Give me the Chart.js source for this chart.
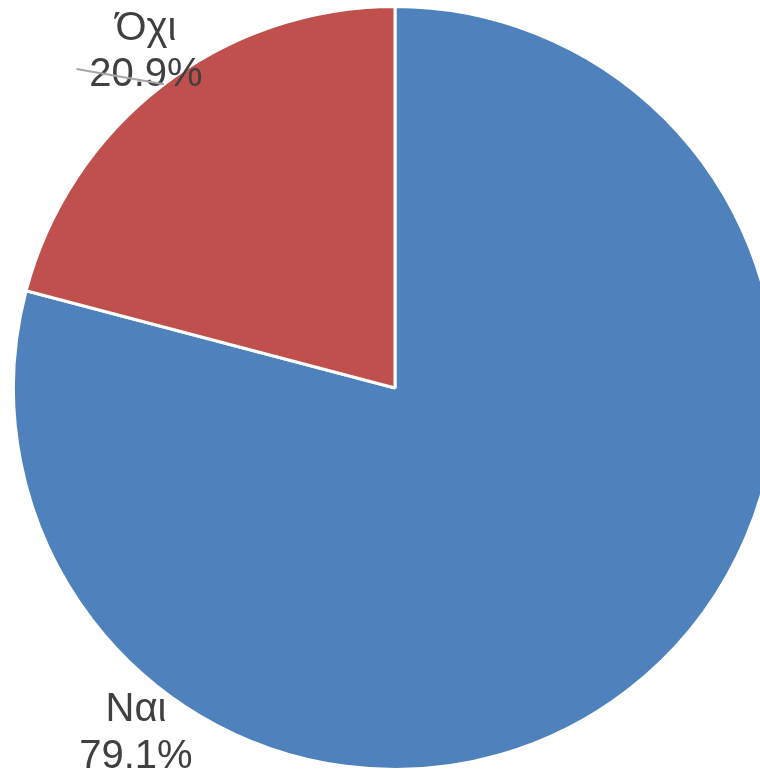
<!DOCTYPE html>
<html>
<head>
<meta charset="utf-8">
<script src="https://cdn.jsdelivr.net/npm/chart.js@4"></script>
<style>
  html, body { margin: 0; padding: 0; background: #fff; overflow: hidden; }
  #wrap { position: absolute; left: 0; top: 0; }
</style>
</head>
<body>
<div id="wrap"><canvas id="pie" width="790" height="776"></canvas></div>
<script>
const categories = ['Ναι', 'Όχι'];
const values = [79.1, 20.9];
const colors = ['#4F81BD', '#C0504D'];

// label spots, as fractions of the radius from the centre (Excel "best fit")
const labelSpots = [
  { dx: -0.679, dy: 0.966 },
  { dx: -0.653, dy: -0.82 }
];

const labelPlugin = {
  id: 'pieLabels',
  afterDatasetsDraw(chart) {
    const ctx = chart.ctx;
    const arcs = chart.getDatasetMeta(0).data;
    ctx.save();
    ctx.font = '40px "Liberation Sans", Arial, sans-serif';
    ctx.textAlign = 'center';
    ctx.textBaseline = 'middle';
    arcs.forEach((arc, i) => {
      const r = arc.outerRadius;
      const x = arc.x + labelSpots[i].dx * r;
      const y = arc.y + labelSpots[i].dy * r;
      ctx.fillStyle = '#404040';
      ctx.fillText(categories[i], x, y - 0.122 * r);
      ctx.fillText(values[i].toFixed(1) + '%', x, y);
      if (i === 1) {
        // leader line from the label to the edge of the slice
        const ey = y + 0.024 * r;
        const ex = arc.x - Math.sqrt(r * r - (arc.y - ey) * (arc.y - ey));
        ctx.strokeStyle = '#A6A6A6';
        ctx.lineWidth = 2;
        ctx.beginPath();
        ctx.moveTo(x - 0.182 * r, y - 0.016 * r);
        ctx.lineTo(ex, ey);
        ctx.stroke();
      }
    });
    ctx.restore();
  }
};

new Chart(document.getElementById('pie'), {
  type: 'pie',
  data: {
    labels: categories,
    datasets: [{
      data: values,
      backgroundColor: colors,
      borderColor: '#FFFFFF',
      borderWidth: 3
    }]
  },
  options: {
    responsive: false,
    animation: false,
    devicePixelRatio: 1,
    layout: { padding: { top: 5, bottom: 5, left: 5, right: 5 } },
    plugins: {
      legend: { display: false },
      tooltip: { enabled: false }
    }
  },
  plugins: [labelPlugin]
});
</script>
</body>
</html>
